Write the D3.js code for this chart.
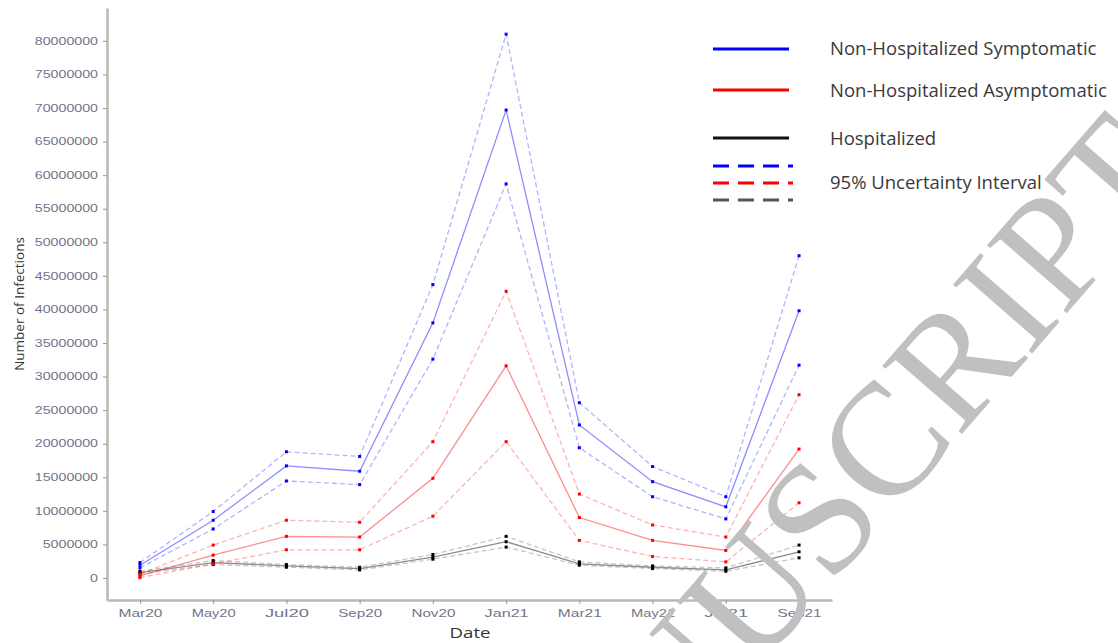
<!DOCTYPE html>
<html>
<script src="https://d3js.org/d3.v7.min.js"></script>
<body style="margin:0;background:white">
<div id="chart"></div>
<script>

// months on the x axis
var months = ["Mar20","May20","Jul20","Sep20","Nov20","Jan21","Mar21","May21","Jul21","Sep21"];

// values, in millions
var symp   = [1.9, 8.6, 16.7, 15.9, 38.0, 69.7, 22.8, 14.35, 10.6, 39.8];
var sympLo = [1.5, 7.3, 14.45, 13.9, 32.6, 58.7, 19.4, 12.1, 8.8, 31.7];
var sympHi = [2.3, 9.9, 18.8, 18.1, 43.7, 81.0, 26.1, 16.6, 12.1, 48.0];

var asym   = [0.3, 3.4, 6.2, 6.1, 14.85, 31.6, 9.0, 5.6, 4.1, 19.2];
var asymLo = [0.05, 2.1, 4.2, 4.2, 9.2, 20.3, 5.6, 3.2, 2.4, 11.2];
var asymHi = [0.6, 4.9, 8.6, 8.3, 20.3, 42.7, 12.5, 7.9, 6.1, 27.3];

var hosp   = [0.8, 2.3, 1.8, 1.4, 3.1, 5.4, 2.1, 1.6, 1.2, 3.9];
var hospLo = [0.6, 2.0, 1.6, 1.2, 2.8, 4.6, 1.9, 1.4, 1.0, 3.0];
var hospHi = [1.0, 2.6, 2.0, 1.6, 3.5, 6.2, 2.4, 1.8, 1.5, 4.9];

var yTicks = d3.range(0, 80000001, 5000000);

var legendLabels = ["Non-Hospitalized Symptomatic", "Non-Hospitalized Asymptomatic", "Hospitalized", "95% Uncertainty Interval"];

var width = 1118, height = 643;

var svg = d3.select("#chart").append("svg")
    .attr("width", width)
    .attr("height", height)
    .style("display", "block")
    .style("font-family", "Open Sans, sans-serif");

var x = d3.scalePoint().domain(months).range([107, 832]).padding(0.45);
var y = d3.scaleLinear().domain([-3280000, 84900000]).range([600, 8]);

// axes
var xAxis = svg.append("g")
    .attr("transform", "translate(0,600)")
    .call(d3.axisBottom(x).tickSize(4).tickSizeOuter(0).tickPadding(5));
var yAxis = svg.append("g")
    .attr("transform", "translate(107,0)")
    .call(d3.axisLeft(y).tickValues(yTicks).tickFormat(d3.format("d")).tickSize(4).tickSizeOuter(0).tickPadding(5));

[xAxis, yAxis].forEach(function(a) {
    a.select(".domain").attr("stroke", "#b8b8b8").attr("stroke-width", 2.5);
    a.selectAll(".tick line").attr("stroke", "#999");
    a.selectAll(".tick text").attr("fill", "#74748a").style("font-size", "10px");
});
// the figure is stretched sideways, so the tick labels are wide
yAxis.selectAll(".tick text")
    .attr("textLength", function(d) { return String(d).length * 7.9; })
    .attr("lengthAdjust", "spacingAndGlyphs");
xAxis.selectAll(".tick text")
    .style("font-size", "11px")
    .attr("textLength", 44)
    .attr("lengthAdjust", "spacingAndGlyphs");

svg.append("text")
    .attr("x", 470).attr("y", 638)
    .attr("text-anchor", "middle")
    .attr("fill", "#333")
    .style("font-size", "15px")
    .attr("textLength", 41)
    .attr("lengthAdjust", "spacingAndGlyphs")
    .text("Date");

svg.append("text")
    .attr("transform", "translate(24,304) rotate(-90)")
    .attr("text-anchor", "middle")
    .attr("fill", "#333")
    .style("font-size", "13.5px")
    .text("Number of Infections");

// lines
var line = d3.line()
    .x(function(d, i) { return x(months[i]); })
    .y(function(d) { return y(d * 1e6); });

var series = [
    {vals: hospLo, col: "#444", dash: true},
    {vals: hospHi, col: "#444", dash: true},
    {vals: hosp, col: "black", dash: false},
    {vals: asymLo, col: "red", dash: true},
    {vals: asymHi, col: "red", dash: true},
    {vals: asym, col: "red", dash: false},
    {vals: sympLo, col: "blue", dash: true},
    {vals: sympHi, col: "blue", dash: true},
    {vals: symp, col: "blue", dash: false}
];

series.forEach(function(s) {
    svg.append("path")
        .datum(s.vals)
        .attr("d", line)
        .attr("fill", "none")
        .attr("stroke", s.col)
        .attr("stroke-width", 1.3)
        .attr("stroke-opacity", s.dash ? 0.3 : 0.45)
        .attr("stroke-dasharray", s.dash ? "5,3" : null);
    svg.selectAll(null)
        .data(s.vals)
        .enter()
        .append("rect")
        .attr("x", function(d, i) { return x(months[i]) - 1.5; })
        .attr("y", function(d) { return y(d * 1e6) - 1.5; })
        .attr("width", 3)
        .attr("height", 3)
        .attr("fill", s.col == "#444" ? "black" : s.col);
});

// legend
var leg = svg.append("g");
var legSolid = [{y: 49, col: "blue"}, {y: 90, col: "red"}, {y: 138, col: "#111"}];
legSolid.forEach(function(l) {
    leg.append("line").attr("x1", 713).attr("x2", 789).attr("y1", l.y).attr("y2", l.y)
        .attr("stroke", l.col).attr("stroke-width", 3);
});
var legDash = [{y: 166, col: "blue"}, {y: 183, col: "red"}, {y: 200, col: "#555"}];
legDash.forEach(function(l) {
    leg.append("line").attr("x1", 713).attr("x2", 793).attr("y1", l.y).attr("y2", l.y)
        .attr("stroke", l.col).attr("stroke-width", 3).attr("stroke-dasharray", "16,9");
});
var legY = [49, 91, 139, 183];
leg.selectAll("text")
    .data(legendLabels)
    .enter()
    .append("text")
    .attr("x", 830)
    .attr("y", function(d, i) { return legY[i]; })
    .attr("dy", "0.35em")
    .attr("fill", "#3a3a3a")
    .style("font-size", "18.5px")
    .text(function(d) { return d; });

// watermark
svg.append("text")
    .attr("transform", "translate(509,955) rotate(-49)")
    .attr("fill", "#c0c0c0")
    .style("font-family", "Liberation Serif, serif")
    .style("font-size", "160px")
    .text("MANUSCRIPT");

</script>
</body>
</html>
